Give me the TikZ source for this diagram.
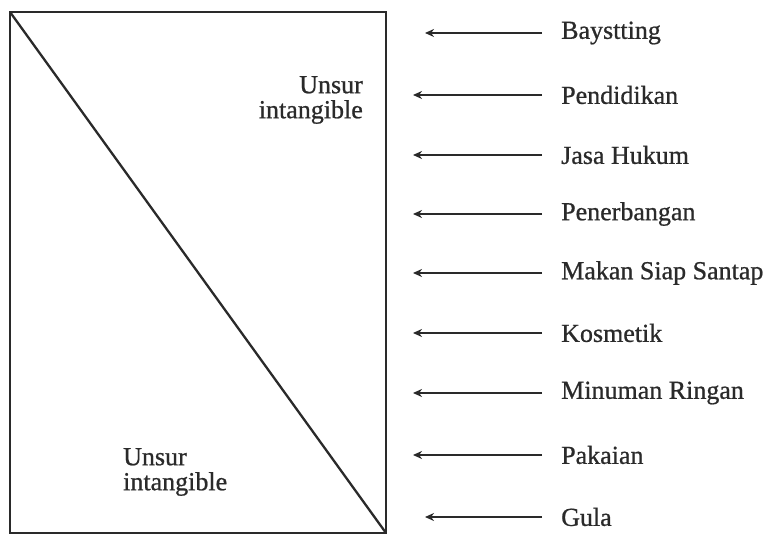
\documentclass[tikz,border=0pt]{standalone}
\usepackage{fontspec}
\setmainfont{Liberation Serif}
\newfontfamily\heavy{Liberation Serif}[FakeBold=0.8]
\usetikzlibrary{arrows.meta}
\definecolor{ink}{HTML}{2A2A2A}
\begin{document}
\begin{tikzpicture}[x=1pt,y=-1pt,
  lbl/.style={anchor=west,inner sep=0pt,text=ink,font=\heavy\fontsize{26}{25}\selectfont},
  inlbl/.style={inner sep=0pt,text=ink,font=\heavy\fontsize{26}{25}\selectfont},
  arr/.style={draw=ink,line width=2.6pt,-{Stealth[length=9pt,width=8pt]}},
  frame/.style={draw=ink,line width=2.6pt}]
\useasboundingbox (0,0) rectangle (771,537);
\coordinate (tl) at (10,12);
\coordinate (br) at (386,533);
\draw[frame] (tl) rectangle (br);
\draw[frame,line width=2.3pt] (tl) -- (br);
\node[inlbl,align=right,anchor=north east] (u1) at (363,76) {Unsur\\intangible};
\node[inlbl,align=left,anchor=north west] (u2) at (123,448) {Unsur\\intangible};
\foreach \n/\t/\y/\tip in {a/Baystting/33/425, b/Pendidikan/95/413, c/Jasa Hukum/155/413, d/Penerbangan/214/413, e/Makan Siap Santap/273/413, f/Kosmetik/333/413, g/Minuman Ringan/393/413, h/Pakaian/455/413, i/Gula/517/425}{
  \node[lbl] (\n) at (561,\y) {\t};
  \coordinate (\n t) at (\tip,\y);
  \draw[arr] (542,\y) -- (\n t);
}
\end{tikzpicture}
\end{document}
